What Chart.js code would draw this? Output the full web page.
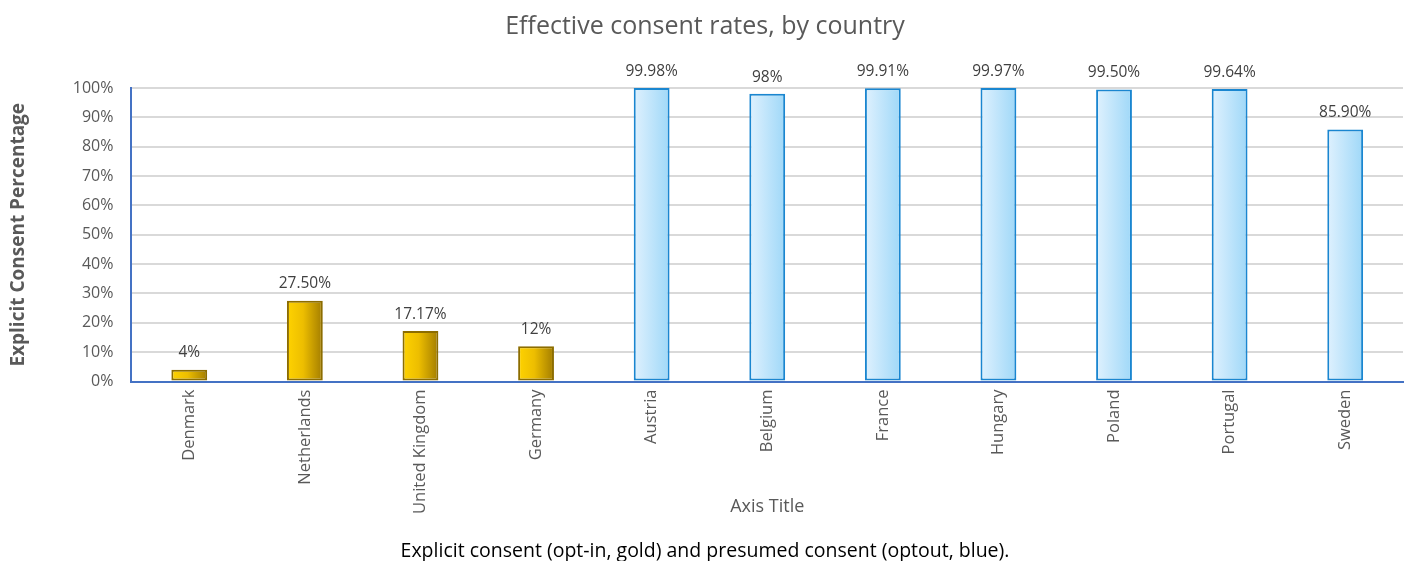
<!DOCTYPE html>
<html>
<head>
<meta charset="utf-8">
<script src="https://cdn.jsdelivr.net/npm/chart.js@4/dist/chart.umd.min.js"></script>
<style>
html,body{margin:0;padding:0;background:#fff;}
#wrap{width:1410px;height:561px;}
</style>
</head>
<body>
<div id="wrap"><canvas id="c" width="1410" height="561"></canvas></div>
<script>
const countries = ['Denmark','Netherlands','United Kingdom','Germany','Austria','Belgium','France','Hungary','Poland','Portugal','Sweden'];
const consentRates = [4, 27.5, 17.17, 12, 99.98, 98, 99.91, 99.97, 99.5, 99.64, 85.9];
const rateLabels = ['4%','27.50%','17.17%','12%','99.98%','98%','99.91%','99.97%','99.50%','99.64%','85.90%'];
const consentType = ['explicit','explicit','explicit','explicit','presumed','presumed','presumed','presumed','presumed','presumed','presumed'];
const yTicks = [0,10,20,30,40,50,60,70,80,90,100];

const FONT = '"Open Sans", sans-serif';
const BAR_PCT = 0.31;

function barGradient(ctx){
  const chart = ctx.chart;
  const type = consentType[ctx.dataIndex];
  const xs = chart.scales.x;
  if (!chart.chartArea || !xs) return type === 'explicit' ? '#E8B800' : '#C3E6FB';
  const cx = xs.getPixelForValue(ctx.dataIndex);
  const w = (xs.width / countries.length) * BAR_PCT;
  const g = chart.ctx.createLinearGradient(cx - w/2, 0, cx + w/2, 0);
  if (type === 'explicit') {
    g.addColorStop(0, '#FFD300');
    g.addColorStop(0.45, '#EDBE00');
    g.addColorStop(1, '#A27C00');
  } else {
    g.addColorStop(0, '#DFF1FE');
    g.addColorStop(1, '#9FD8F8');
  }
  return g;
}

const labelPlugin = {
  id: 'barLabels',
  afterDatasetsDraw(chart){
    const c = chart.ctx;
    const meta = chart.getDatasetMeta(0);
    c.save();
    c.font = '15.5px ' + FONT;
    c.fillStyle = '#404040';
    c.textAlign = 'center';
    c.textBaseline = 'bottom';
    meta.data.forEach((bar, i) => {
      c.fillText(rateLabels[i], bar.x, bar.y - 9);
    });
    c.restore();
  }
};

new Chart(document.getElementById('c'), {
  type: 'bar',
  data: {
    labels: countries,
    datasets: [{
      data: consentRates,
      backgroundColor: barGradient,
      borderColor: consentRates.map((v,i) => consentType[i] === 'explicit' ? '#8C6D00' : '#1A86D0'),
      borderWidth: 2,
      borderSkipped: false,
      barPercentage: BAR_PCT,
      categoryPercentage: 1
    }]
  },
  options: {
    responsive: false,
    animation: false,
    layout: { padding: { left: 7, right: 7, top: 0, bottom: 0 } },
    plugins: {
      legend: { display: false },
      tooltip: { enabled: false },
      title: {
        display: true,
        text: 'Effective consent rates, by country',
        color: '#595959',
        font: { family: FONT, size: 25, weight: 'normal' },
        padding: { top: 12, bottom: 46 }
      },
      subtitle: {
        display: true,
        position: 'bottom',
        text: 'Explicit consent (opt-in, gold) and presumed consent (optout, blue).',
        color: '#000000',
        font: { family: FONT, size: 19.5, weight: 'normal' },
        padding: { top: 22, bottom: -2 }
      }
    },
    scales: {
      x: {
        grid: { display: false, drawTicks: false },
        border: { color: '#4472C4', width: 2 },
        ticks: {
          color: '#595959',
          font: { family: FONT, size: 16.5 },
          minRotation: 90, maxRotation: 90,
          padding: 8,
          autoSkip: false
        },
        title: {
          display: true,
          text: 'Axis Title',
          color: '#595959',
          font: { family: FONT, size: 18 },
          padding: { top: -26, bottom: 0 }
        }
      },
      y: {
        min: 0, max: 100,
        afterBuildTicks(axis){ axis.ticks = yTicks.map(v => ({ value: v })); },
        grid: { color: '#D9D9D9', lineWidth: 2, drawTicks: false },
        border: { color: '#4472C4', width: 2 },
        ticks: {
          color: '#595959',
          font: { family: FONT, size: 16 },
          padding: 18,
          callback: v => v + '%'
        },
        title: {
          display: true,
          text: 'Explicit Consent Percentage',
          color: '#595959',
          font: { family: FONT, size: 19, weight: 'bold' },
          padding: { top: 0, bottom: 25 }
        }
      }
    }
  },
  plugins: [labelPlugin]
});
</script>
</body>
</html>
